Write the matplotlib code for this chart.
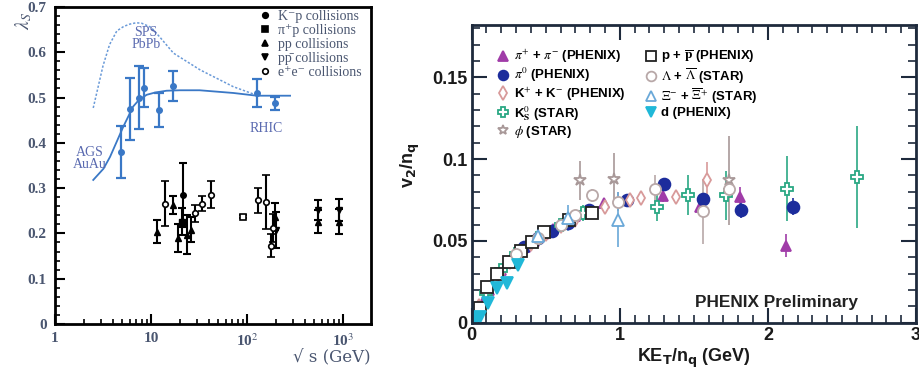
import numpy as np
import matplotlib
matplotlib.use("Agg")
import matplotlib.pyplot as plt
from matplotlib.lines import Line2D
from matplotlib.ticker import MultipleLocator, LogLocator, NullFormatter

plt.rcParams['mathtext.fontset'] = 'stix'

## Left panel: strangeness suppression lambda_S vs sqrt(s)
# heavy ion points (blue)
aa_x = [4.83, 6.04, 7.44, 8.5, 12.2, 17.1, 126, 195]
aa_y = [0.38, 0.475, 0.50, 0.522, 0.473, 0.525, 0.51, 0.487]
aa_err = [0.057, 0.068, 0.07, 0.043, 0.037, 0.033, 0.031, 0.015]

# model curves
fit_x = [2.5, 3.2, 3.74, 4.4, 5.15, 6.5, 7.5, 9.0, 11, 14.5, 20, 32, 72, 126, 280]
fit_y = [0.318, 0.343, 0.369, 0.403, 0.436, 0.48, 0.495, 0.506, 0.511, 0.515, 0.516, 0.516, 0.51, 0.504, 0.504]
sps_x = [2.5, 3.16, 3.7, 4.4, 5.2, 6.0, 7.0, 7.98, 10, 12.5, 17.1, 32.4, 71.6, 126]
sps_y = [0.477, 0.57, 0.617, 0.647, 0.657, 0.662, 0.665, 0.664, 0.655, 0.632, 0.598, 0.561, 0.524, 0.505]

# elementary collisions (black)
kp_x, kp_y, kp_err = [21.7], [0.285], [0.07]
pip_x, pip_y, pip_err = [21.2], [0.226], [0.03]
pp_x = [11.5, 17.1, 19.3, 23.5, 25.9, 196, 546, 900]
pp_y = [0.204, 0.263, 0.19, 0.197, 0.208, 0.237, 0.226, 0.226]
pp_err = [0.026, 0.02, 0.03, 0.043, 0.028, 0.03, 0.026, 0.028]
ppbar_x = [200, 546, 900]
ppbar_y = [0.208, 0.252, 0.251]
ppbar_err = [0.04, 0.022, 0.024]
ee_x = [13.8, 28.7, 34.2, 42.2, 131, 158, 177, 185]
ee_y = [0.266, 0.244, 0.266, 0.285, 0.273, 0.269, 0.173, 0.212]
ee_err = [0.05, 0.019, 0.017, 0.03, 0.027, 0.06, 0.026, 0.03]
z_x, z_y, z_err = [90.2], [0.237], [0.004]

## Right panel: v2/nq vs KET/nq
pipm_x = [0.04, 0.08, 0.12, 0.16, 0.2, 0.25, 0.3, 0.36, 0.42, 0.48, 0.55, 0.62, 0.7, 0.78, 0.89, 1.29, 1.54, 1.81, 2.12]
pipm_y = [0.007, 0.014, 0.02, 0.027, 0.032, 0.037, 0.042, 0.046, 0.05, 0.054, 0.057, 0.061, 0.065, 0.068, 0.073, 0.0775, 0.071, 0.077, 0.047]
pipm_err = [0.001, 0.001, 0.001, 0.001, 0.001, 0.001, 0.001, 0.001, 0.001, 0.001, 0.001, 0.002, 0.002, 0.002, 0.002, 0.004, 0.005, 0.006, 0.007]
pi0_x = [0.35, 0.45, 0.54, 0.65, 0.79, 1.05, 1.30, 1.56, 1.82, 2.17]
pi0_y = [0.046, 0.052, 0.056, 0.061, 0.069, 0.075, 0.085, 0.0755, 0.069, 0.071]
pi0_err = [0.001, 0.001, 0.002, 0.002, 0.002, 0.003, 0.003, 0.004, 0.005, 0.005]
kpm_x = [0.05, 0.1, 0.15, 0.2, 0.26, 0.33, 0.4, 0.5, 0.6, 0.7, 0.9, 1.07, 1.14, 1.38, 1.59]
kpm_y = [0.01, 0.018, 0.025, 0.031, 0.037, 0.043, 0.048, 0.054, 0.059, 0.063, 0.071, 0.075, 0.076, 0.077, 0.087]
kpm_err = [0.001, 0.001, 0.001, 0.001, 0.001, 0.002, 0.002, 0.002, 0.002, 0.003, 0.003, 0.003, 0.003, 0.003, 0.011]
k0s_x = [0.1, 0.2, 0.3, 0.45, 0.6, 0.75, 1.25, 1.46, 1.72, 2.13, 2.6]
k0s_y = [0.018, 0.032, 0.042, 0.052, 0.06, 0.067, 0.071, 0.078, 0.078, 0.082, 0.089]
k0s_err = [0.002, 0.002, 0.003, 0.003, 0.004, 0.005, 0.009, 0.012, 0.015, 0.02, 0.031]
phi_x = [0.73, 0.96, 1.74]
phi_y = [0.087, 0.088, 0.087]
phi_err = [0.012, 0.016, 0.027]
ppb_x = [0.056, 0.106, 0.17, 0.249, 0.332, 0.407, 0.486, 0.655, 0.813]
ppb_y = [0.0088, 0.022, 0.030, 0.037, 0.044, 0.0496, 0.0557, 0.0628, 0.067]
ppb_err = [0.001, 0.001, 0.001, 0.001, 0.001, 0.001, 0.002, 0.002, 0.002]
lam_x = [0.3, 0.45, 0.6, 0.7, 0.81, 0.99, 1.24, 1.56, 1.74]
lam_y = [0.042, 0.052, 0.06, 0.066, 0.078, 0.074, 0.082, 0.068, 0.082]
lam_err = [0.002, 0.002, 0.003, 0.003, 0.004, 0.006, 0.008, 0.02, 0.01]
xi_x = [0.45, 0.65, 0.99]
xi_y = [0.053, 0.064, 0.063]
xi_err = [0.006, 0.008, 0.017]
d_x = [0.03, 0.056, 0.113, 0.17, 0.237, 0.316]
d_y = [0.002, 0.0037, 0.0118, 0.021, 0.024, 0.035]
d_err = [0.001, 0.001, 0.001, 0.002, 0.002, 0.003]

fig = plt.figure(figsize=(9.2, 3.7), dpi=100)

## ---- left panel
blue = '#3a78c6'
lab = '#4a5670'
axl = fig.add_axes([0.0598, 0.1243, 0.3435, 0.857])
axl.set_xscale('log')
axl.set_xlim(1, 1950)
axl.set_ylim(0, 0.7)

axl.plot(fit_x, fit_y, color=blue, lw=1.3)
axl.plot(sps_x, sps_y, color='#6a9ad8', lw=1.1, ls=(0, (1.5, 1.2)))
axl.errorbar(aa_x, aa_y, yerr=aa_err, fmt='o', color=blue, ms=4, elinewidth=1.6, capsize=3.5, capthick=1.6)

ekw = dict(color='black', ms=4, elinewidth=1.5, capsize=3, capthick=1.5, ls='none')
axl.errorbar(kp_x, kp_y, yerr=kp_err, marker='o', **ekw)
axl.errorbar(pip_x, pip_y, yerr=pip_err, marker='s', **ekw)
axl.errorbar(pp_x, pp_y, yerr=pp_err, marker='^', **ekw)
axl.errorbar(ppbar_x, ppbar_y, yerr=ppbar_err, marker='v', **ekw)
axl.errorbar(ee_x, ee_y, yerr=ee_err, marker='o', mfc='white', mew=1.2, **ekw)
axl.errorbar(z_x, z_y, yerr=z_err, marker='s', mfc='white', mew=1.2, **ekw)

tfont = dict(family='Liberation Serif', color='#5a6ab0', fontsize=10)
axl.text(8.8, 0.63, 'SPS\nPbPb', ha='center', va='center', linespacing=0.85, **tfont)
axl.text(2.3, 0.365, 'AGS\nAuAu', ha='center', va='center', linespacing=0.85, **tfont)
axl.text(158, 0.432, 'RHIC', ha='center', va='center', **tfont)

handles = [Line2D([], [], marker=m, color='black', ls='none', ms=4, mfc=f, mew=1.2)
           for m, f in [('o', 'black'), ('s', 'black'), ('^', 'black'), ('v', 'black'), ('o', 'white')]]
labels = ['K\u207bp collisions', '\u03c0\u207ap collisions', 'pp collisions',
          'pp\u0304 collisions', 'e\u207ae\u207b collisions']
axl.legend(handles, labels, loc='upper right', bbox_to_anchor=(1.0, 1.02), frameon=False,
           prop={'family': ['Liberation Serif', 'DejaVu Serif'], 'size': 10}, labelcolor=lab,
           handletextpad=0.35, handlelength=1.1, labelspacing=0.07, borderaxespad=0.3)

axl.yaxis.set_minor_locator(MultipleLocator(0.02))
axl.set_yticks(np.arange(0, 0.71, 0.1), ['0', '0.1', '0.2', '0.3', '0.4', '0.5', '0.6', '0.7'])
axl.set_xticks([1, 10, 100, 1000], ['1', '10', '10$^{2}$', '10$^{3}$'])
axl.xaxis.set_minor_locator(LogLocator(base=10, subs=np.arange(2, 10)))
axl.xaxis.set_minor_formatter(NullFormatter())
axl.tick_params(which='both', direction='in', top=False, right=False, color='black')
axl.tick_params(which='major', length=7, width=1.5, pad=6)
axl.tick_params(which='minor', length=3.5, width=1.2)
for t in axl.get_xticklabels() + axl.get_yticklabels():
    t.set_family('Liberation Serif')
    t.set_fontweight('bold')
    t.set_fontsize(11)
    t.set_color(lab)
for s in axl.spines.values():
    s.set_linewidth(2)
axl.set_xlabel('\u221a s (GeV)', family='DejaVu Serif', fontsize=12, color=lab)
axl.xaxis.set_label_coords(1.0, -0.08)
axl.xaxis.label.set_ha('right')
axl.set_ylabel(r'$\lambda_S$', fontsize=14, color=lab, rotation=90)
axl.yaxis.set_label_coords(-0.065, 0.955)

## ---- right panel
axr = fig.add_axes([0.5127, 0.1278, 0.483, 0.8046])
axr.set_xlim(0, 3)
axr.set_ylim(0, 0.182)

series = [
    (pipm_x, pipm_y, pipm_err, '^', '#a03ca8', True, 7, r'$\pi^{+}$ + $\pi^{-}$ (PHENIX)'),
    (pi0_x, pi0_y, pi0_err, 'o', '#1c2c9c', True, 8.5, r'$\pi^{0}$ (PHENIX)'),
    (kpm_x, kpm_y, kpm_err, 'd', '#d89a9a', False, 7, 'K$^{+}$ + K$^{-}$ (PHENIX)'),
    (k0s_x, k0s_y, k0s_err, 'P', '#2aa884', False, 9, r'K$^{0}_{\mathbf{S}}$ (STAR)'),
    (phi_x, phi_y, phi_err, '*', '#a89898', False, 9, r'$\phi$ (STAR)'),
    (ppb_x, ppb_y, ppb_err, 's', '#222222', False, 8, r'p + $\overline{\mathbf{p}}$ (PHENIX)'),
    (lam_x, lam_y, lam_err, 'o', '#b8a8a8', False, 8, r'$\Lambda$ + $\overline{\Lambda}$ (STAR)'),
    (xi_x, xi_y, xi_err, '^', '#6aa8d8', False, 9, r'$\Xi^{-}$ + $\overline{\Xi}^{+}$ (STAR)'),
    (d_x, d_y, d_err, 'v', '#20b8d8', True, 8, 'd (PHENIX)'),
]
handles = []
labels = []
for x, y, e, m, c, filled, ms, name in series:
    fc = c if filled else 'white'
    axr.errorbar(x, y, yerr=e, marker=m, color=c, mfc=fc, mec=c, ms=ms, mew=1.3,
                 ls='none', elinewidth=1.2, capsize=0)
    handles.append(Line2D([], [], marker=m, color=c, mfc=fc, mec=c, ms=7, mew=1.3, ls='none'))
    labels.append(name)

# two columns: first 5, then 4
leg = axr.legend(handles, labels, ncol=2, loc='upper left', bbox_to_anchor=(0.03, 0.963),
                 frameon=False, prop={'family': 'Liberation Sans', 'weight': 'bold', 'size': 9.5},
                 handletextpad=0.3, handlelength=1.0, labelspacing=0.08, columnspacing=1.4)

axr.text(0.685, 0.068, 'PHENIX Preliminary', transform=axr.transAxes, ha='center', va='center',
         family='Liberation Sans', fontweight='bold', fontsize=12.4, color='#222222')

axr.set_xticks([0, 1, 2, 3], ['0', '1', '2', '3'])
axr.set_yticks([0, 0.05, 0.1, 0.15], ['0', '0.05', '0.1', '0.15'])
axr.xaxis.set_minor_locator(MultipleLocator(0.1))
axr.yaxis.set_minor_locator(MultipleLocator(0.01))
axr.tick_params(which='both', direction='in', top=True, right=True, color='#1e2a3c')
axr.tick_params(which='major', length=11, width=1.5, pad=3)
axr.tick_params(which='minor', length=6, width=1.2)
for t in axr.get_xticklabels() + axr.get_yticklabels():
    t.set_family('Liberation Sans')
    t.set_fontweight('bold')
    t.set_fontsize(13)
    t.set_color('#1a1a1a')
for s in axr.spines.values():
    s.set_linewidth(2)
    s.set_color('#1e2a3c')
axr.set_xlabel(r'KE$_{\mathbf{T}}$/n$_{\mathbf{q}}$ (GeV)', family='Liberation Sans', fontweight='bold',
               fontsize=13, color='#1a1a1a', labelpad=2, math_fontfamily='dejavusans')
axr.set_ylabel(r'v$_{\mathbf{2}}$/n$_{\mathbf{q}}$', family='Liberation Sans', fontweight='bold',
               fontsize=13, color='#1a1a1a', math_fontfamily='dejavusans')
axr.yaxis.set_label_coords(-0.112, 0.53)

fig.savefig('out.png', dpi=100)
